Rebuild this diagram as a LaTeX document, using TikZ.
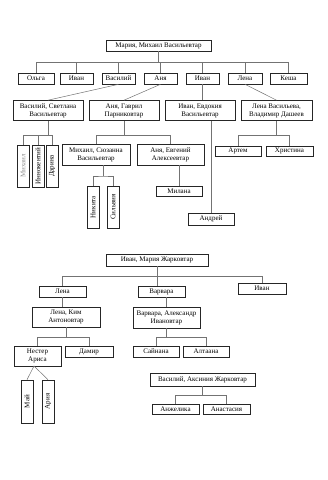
\documentclass[tikz,border=0pt]{standalone}
\usepackage{fontspec}
\setmainfont{Liberation Serif}
\usepackage{graphicx}
\usepackage{tikz}

\begin{document}
\begin{tikzpicture}[
    x=1pt, y=-1pt,
    person/.style={
        draw=black!85,
        line width=0.6pt,
        align=center,
        inner sep=0pt,
        minimum height=11pt,
        font=\fontsize{7}{8}\selectfont
    },
    couple/.style={
        person,
        minimum height=20pt
    },
    vperson/.style={
        person,
        minimum width=12pt,
        minimum height=42pt
    },
    link/.style={draw=black!55, line width=0.5pt}
]

\useasboundingbox (0,0) rectangle (328,480);

% first family
\node[person, minimum width=105pt] (maria) at (158.5,45.5) {Мария, Михаил Васильевтар};

\node[person, minimum width=36pt] (olga) at (36,78.5) {Ольга};
\node[person, minimum width=33pt] (ivanA) at (76.5,78.5) {Иван};
\node[person, minimum width=33pt] (vasiliy) at (118.5,78.5) {Василий};
\node[person, minimum width=33pt] (anya) at (160.5,78.5) {Аня};
\node[person, minimum width=33pt] (ivanB) at (202.5,78.5) {Иван};
\node[person, minimum width=34pt] (lena) at (245,78.5) {Лена};
\node[person, minimum width=37pt] (kesha) at (288.5,78.5) {Кеша};

\coordinate (bus1) at (0,62);
\draw[link] (maria.south) -- (maria.south |- bus1);
\draw[link] (olga.north) |- (kesha.north |- bus1) -- (kesha.north);
\foreach \n in {ivanA,vasiliy,anya,ivanB,lena}
    \draw[link] (\n.north) -- (\n.north |- bus1);

\node[couple, minimum width=70pt] (vasSv) at (48,110.5) {Василий, Светлана\\Васильевтар};
\node[couple, minimum width=70pt] (anyaGv) at (124,110.5) {Аня, Гаврил\\Парниковтар};
\node[couple, minimum width=70pt] (ivanEv) at (200,110.5) {Иван, Евдокия\\Васильевтар};
\node[couple, minimum width=71pt] (lenaVl) at (276.5,110.5) {Лена Васильева,\\Владимир Дашеев};

\draw[link] (vasiliy.south) -- (vasSv.north);
\draw[link] (anya.south) -- (anyaGv.north);
\draw[link] (ivanB.south) -- (ivanB.south |- ivanEv.north);
\draw[link] (lena.south) -- (lenaVl.north);

% grandchildren
\coordinate (bus2) at (0,135.5);
\node[vperson] (mikhail) at (23,166) {\rotatebox{90}{\color{black!45}Михаил}};
\node[vperson] (innokentiy) at (38,166) {\rotatebox{90}{Иннокентий}};
\node[vperson] (darina) at (52,166) {\rotatebox{90}{Дарина}};
\draw[link] (vasSv.south) -- (vasSv.south |- bus2);
\draw[link] (mikhail.north) |- (darina.north |- bus2) -- (darina.north);
\draw[link] (innokentiy.north) -- (innokentiy.north |- bus2);

\node[couple, minimum width=68pt, minimum height=21pt] (mikhSz) at (96,154.5) {Михаил, Сюзанна\\Васильевтар};
\node[couple, minimum width=67pt, minimum height=21pt] (anyaEv) at (170.5,154.5) {Аня, Евгений\\Алексеевтар};
\draw[link] (anyaGv.south) -- (anyaGv.south |- bus2);
\draw[link] (mikhSz.north) |- (anyaEv.north |- bus2) -- (anyaEv.north);

\node[vperson] (nikita) at (93,207) {\rotatebox{90}{Никита}};
\node[vperson] (silviya) at (113,207) {\rotatebox{90}{Сильвия}};
\coordinate (bus3) at (103,176);
\draw[link] (bus3 |- mikhSz.south) -- (bus3);
\draw[link] (nikita.north) |- (bus3) -| (silviya.north);

\node[person, minimum width=46pt, minimum height=10pt] (milana) at (179,191) {Милана};
\draw[link] (milana.north) -- (milana.north |- anyaEv.south);

\node[person, minimum width=46pt, minimum height=12pt] (andrey) at (211,219) {Андрей};
\draw[link] (andrey.north) -- (andrey.north |- ivanEv.south);

\node[person, minimum width=46pt, minimum height=10pt] (artem) at (238,151) {Артем};
\node[person, minimum width=47pt, minimum height=10pt] (khristina) at (289.5,151) {Христина};
\draw[link] (lenaVl.south) -- (lenaVl.south |- bus2);
\draw[link] (artem.north) |- (khristina.north |- bus2) -- (khristina.north);

% second family
\node[person, minimum width=102pt, minimum height=12pt] (ivanMr) at (157,260) {Иван, Мария Жарковтар};

\node[person, minimum width=47pt] (lenaB) at (62.5,291.5) {Лена};
\node[person, minimum width=47pt] (varvara) at (161.5,291.5) {Варвара};
\node[person, minimum width=48pt] (ivanC) at (262,288.5) {Иван};
\coordinate (bus4) at (0,276);
\draw[link] (ivanMr.south) -- (ivanMr.south |- varvara.north);
\draw[link] (lenaB.north) |- (ivanC.north |- bus4) -- (ivanC.north);

\node[couple, minimum width=68pt] (lenaKm) at (66,317) {Лена, Ким\\Антоновтар};
\node[couple, minimum width=67pt, minimum height=21pt] (varvAl) at (166.5,317.5) {Варвара, Александр\\Ивановтар};
\draw[link] (lenaB.south) -- (lenaB.south |- lenaKm.north);
\draw[link] (varvAl.north) -- (varvAl.north |- varvara.south);

\coordinate (bus5) at (0,337);
\node[couple, minimum width=47pt] (nestor) at (37.5,356) {Нестер\\Ариса};
\node[person, minimum width=48pt] (damir) at (89,351.5) {Дамир};
\node[person, minimum width=46pt] (saynana) at (156,351.5) {Сайнана};
\node[person, minimum width=46pt] (altaana) at (206,351.5) {Алтаана};
\draw[link] (lenaKm.south) -- (lenaKm.south |- bus5);
\draw[link] (nestor.north) |- (damir.north |- bus5) -- (damir.north);
\draw[link] (varvAl.south) -- (varvAl.south |- bus5);
\draw[link] (saynana.north) |- (altaana.north |- bus5) -- (altaana.north);

\node[vperson, minimum height=43pt] (may) at (27,401.5) {\rotatebox{90}{Май}};
\node[vperson, minimum height=43pt] (ariya) at (48,401.5) {\rotatebox{90}{Ария}};
\coordinate (fork) at (34,366);
\draw[link] (may.north) -- (fork) -- (ariya.north);

\node[person, minimum width=105pt, minimum height=13pt] (vasAk) at (202.5,379.5) {Василий, Аксиния Жарковтар};
\node[person, minimum width=47pt, minimum height=10pt] (anzhelika) at (175.5,409) {Анжелика};
\node[person, minimum width=47pt, minimum height=10pt] (anastasiya) at (226.5,409) {Анастасия};
\coordinate (bus6) at (0,395);
\draw[link] (vasAk.south) -- (vasAk.south |- bus6);
\draw[link] (anzhelika.north) |- (anastasiya.north |- bus6) -- (anastasiya.north);

\end{tikzpicture}
\end{document}
